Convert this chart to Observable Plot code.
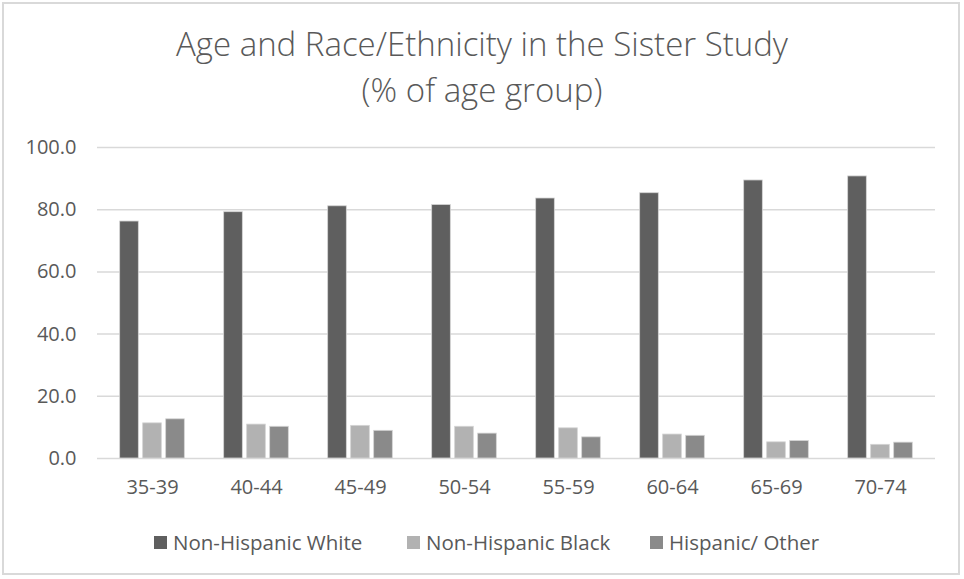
<!DOCTYPE html>
<html>
<head>
<meta charset="utf-8">
<script src="https://cdn.jsdelivr.net/npm/d3@7"></script>
<script src="https://cdn.jsdelivr.net/npm/@observablehq/plot@0.6"></script>
<style>
  html, body { margin: 0; padding: 0; background: #fff; }
  #frame { position: relative; width: 964px; height: 579px; overflow: hidden; font-family: "Open Sans", sans-serif; color: #595959; }
  #border { position: absolute; left: 2px; top: 2px; width: 958px; height: 573px; border: 2px solid #d9d9d9; box-sizing: border-box; }
  #title { position: absolute; left: 0; width: 964px; text-align: center; font-weight: 300; font-size: 33px; line-height: 46px; top: 21px; }
  #chart { position: absolute; left: 0; top: 130px; }
  #legend { position: absolute; top: 529px; left: 0; width: 964px; height: 26px; font-size: 20.5px; }
  .item { position: absolute; top: 0; display: flex; align-items: center; height: 26px; white-space: nowrap; }
  .sw { width: 13px; height: 13px; margin-right: 6px; }
</style>
</head>
<body>
<div id="frame">
  <div id="border"></div>
  <div id="title">Age and Race/Ethnicity in the Sister Study<br>(% of age group)</div>
  <div id="chart"></div>
  <div id="legend"></div>
</div>
<script>
const ages = ["35-39", "40-44", "45-49", "50-54", "55-59", "60-64", "65-69", "70-74"];
const seriesNames = ["Non-Hispanic White", "Non-Hispanic Black", "Hispanic/ Other"];
const white = [76.2, 79.2, 81.1, 81.5, 83.6, 85.3, 89.4, 90.7];
const black = [11.3, 10.9, 10.5, 10.2, 9.7, 7.7, 5.2, 4.4];
const hispanic = [12.6, 10.2, 8.9, 8.0, 6.8, 7.3, 5.6, 5.1];
const yTicks = [0, 20, 40, 60, 80, 100];
const colors = ["#5f5f5f", "#b2b2b2", "#8a8a8a"];

const seriesValues = [white, black, hispanic];
const tables = seriesValues.map((vals, s) => ages.map((a, i) => ({age: a, series: seriesNames[s], value: vals[i]})));

const W = 964, H = 380, mL = 97, mR = 29, mT = 17, mB = 52;
const bw = (W - mL - mR) / ages.length;
const barW = 19.4, gap = 3.6;
const groupW = 3 * barW + 2 * gap;
const start = (bw - groupW) / 2;

const barMarks = tables.map((t, s) => {
  const left = start + s * (barW + gap);
  return Plot.barY(t, {
    x: "age", y: "value", fill: "series",
    insetLeft: left, insetRight: bw - left - barW,
    stroke: "#d4d4d4", strokeWidth: 0.8
  });
});

const plot = Plot.plot({
  width: W, height: H,
  marginLeft: mL, marginRight: mR, marginTop: mT, marginBottom: mB,
  style: {fontFamily: "Open Sans, sans-serif", fontSize: "20px", color: "#595959", background: "transparent"},
  x: {domain: ages, padding: 0, label: null, tickSize: 0, tickPadding: 21},
  y: {domain: [0, 100], ticks: yTicks, tickFormat: d => d.toFixed(1), label: null, tickSize: 0, tickPadding: 21},
  color: {domain: seriesNames, range: colors},
  marks: [
    Plot.ruleY(yTicks, {stroke: "#d9d9d9", strokeWidth: 1.5}),
    ...barMarks
  ]
});
document.getElementById("chart").appendChild(plot);

const legend = document.getElementById("legend");
const legendX = [154, 407, 650];
seriesNames.forEach((name, i) => {
  const item = document.createElement("div");
  item.className = "item";
  item.style.left = legendX[i] + "px";
  const sw = document.createElement("div");
  sw.className = "sw";
  sw.style.background = colors[i];
  const label = document.createElement("span");
  label.textContent = name;
  item.appendChild(sw);
  item.appendChild(label);
  legend.appendChild(item);
});
</script>
</body>
</html>
